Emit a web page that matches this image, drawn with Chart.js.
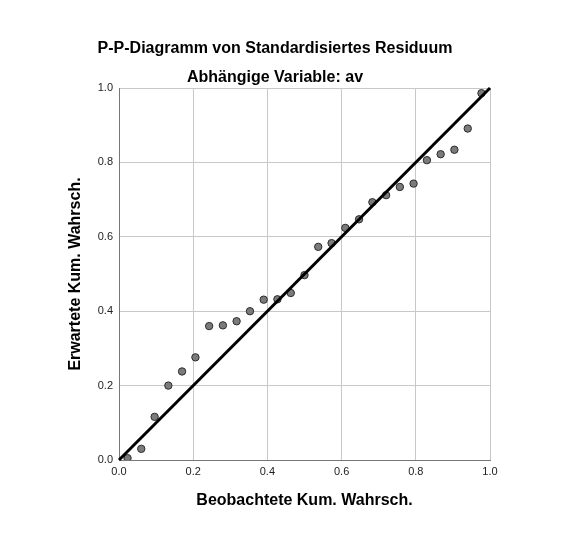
<!DOCTYPE html>
<html>
<head>
<meta charset="utf-8">
<script src="https://cdn.jsdelivr.net/npm/chart.js@4/dist/chart.umd.min.js"></script>
<style>
	html, body { margin: 0; padding: 0; background: #fff; }
	canvas { display: block; }
</style>
</head>
<body>
<canvas id="pp" width="576" height="539" style="width:576px;height:539px"></canvas>
<script>
// beobachtete kum. wahrscheinlichkeit (x) / erwartete (y)
var observed = [0.023, 0.060, 0.096, 0.133, 0.170, 0.206, 0.243, 0.280, 0.317, 0.353, 0.390, 0.427, 0.463, 0.500,
	0.537, 0.573, 0.610, 0.647, 0.683, 0.720, 0.757, 0.794, 0.830, 0.867, 0.904, 0.940, 0.977]
var expected = [0.005, 0.030, 0.116, 0.200, 0.238, 0.276, 0.360, 0.362, 0.373, 0.400, 0.431, 0.432, 0.449, 0.497,
	0.573, 0.583, 0.624, 0.647, 0.693, 0.712, 0.734, 0.743, 0.806, 0.822, 0.834, 0.891, 0.986]
var diagonal = [0, 1]
var tickValues = [0, 0.2, 0.4, 0.6, 0.8, 1.0]

var titleText = 'P-P-Diagramm von Standardisiertes Residuum'
var subtitleText = 'Abhängige Variable: av'
var xTitle = 'Beobachtete Kum. Wahrsch.'
var yTitle = 'Erwartete Kum. Wahrsch.'

var FONT = '"Liberation Sans", Arial, sans-serif'

var points = observed.map(function(v, i) { return { x: v, y: expected[i] } })
var linePts = diagonal.map(function(v) { return { x: v, y: v } })

// titles sit a bit left of the plot centre, so draw them by hand
var headerPlugin = {
	id: 'header',
	afterDraw: function(chart) {
		var ctx = chart.ctx
		ctx.save()
		ctx.fillStyle = '#000'
		ctx.textAlign = 'center'
		ctx.textBaseline = 'alphabetic'
		ctx.font = 'bold 16px ' + FONT
		ctx.fillText(titleText, 275, 53)
		ctx.fillText(subtitleText, 275, 82)
		ctx.restore()
	}
}

new Chart(document.getElementById('pp'), {
	type: 'scatter',
	data: {
		datasets: [{
			type: 'line',
			data: linePts,
			borderColor: '#000',
			borderWidth: 3,
			pointRadius: 0,
			fill: false,
			clip: false,
			order: 0
		}, {
			data: points,
			backgroundColor: '#7b7b7b',
			borderColor: '#2b2b2b',
			borderWidth: 1,
			pointRadius: 3.7,
			order: 1
		}]
	},
	options: {
		responsive: false,
		animation: false,
		devicePixelRatio: 1,
		layout: {
			padding: { left: 0, top: 88, right: 86, bottom: 0 }
		},
		plugins: {
			legend: { display: false },
			tooltip: { enabled: false }
		},
		scales: {
			x: {
				type: 'linear',
				min: 0,
				max: 1,
				afterFit: function(s) { s.height = 79 },
				afterBuildTicks: function(s) { s.ticks = tickValues.map(function(v) { return { value: v } }) },
				grid: { color: '#c8c8c8', lineWidth: 1, drawTicks: false },
				border: { color: '#777', width: 1 },
				ticks: {
					padding: 5,
					color: '#222',
					font: { family: FONT, size: 11 },
					callback: function(v) { return v.toFixed(1) }
				},
				title: {
					display: true,
					text: xTitle,
					color: '#000',
					font: { family: FONT, size: 16, weight: 'bold' },
					padding: { top: 0, bottom: 29 }
				}
			},
			y: {
				type: 'linear',
				min: 0,
				max: 1,
				afterFit: function(s) { s.width = 119 },
				afterBuildTicks: function(s) { s.ticks = tickValues.map(function(v) { return { value: v } }) },
				grid: { color: '#c8c8c8', lineWidth: 1, drawTicks: false },
				border: { color: '#777', width: 1 },
				ticks: {
					padding: 6,
					color: '#222',
					font: { family: FONT, size: 11 },
					callback: function(v) { return v.toFixed(1) }
				},
				title: {
					display: true,
					text: yTitle,
					color: '#000',
					font: { family: FONT, size: 16, weight: 'bold' },
					padding: { top: 66, bottom: 0 }
				}
			}
		}
	},
	plugins: [headerPlugin]
})
</script>
</body>
</html>
